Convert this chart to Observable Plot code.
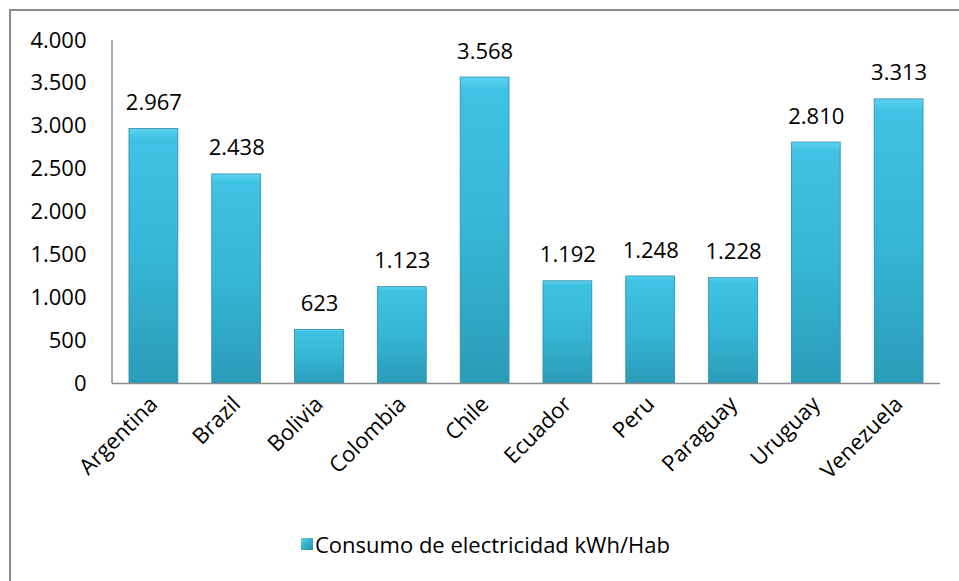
<!DOCTYPE html>
<html>
<head>
<meta charset="utf-8">
<script src="https://cdn.jsdelivr.net/npm/d3@7"></script>
<script src="https://cdn.jsdelivr.net/npm/@observablehq/plot@0.6"></script>
<style>
  html, body { margin: 0; padding: 0; background: #fff; }
  #wrap { position: relative; width: 959px; height: 581px; overflow: hidden; font-family: "Open Sans", sans-serif; }
  #border { position: absolute; left: 9px; top: 9px; width: 960px; height: 600px; border-top: 2px solid #8c8c8c; border-left: 2px solid #8c8c8c; box-sizing: border-box; }
  #chart { position: absolute; left: 0; top: 0; }
  #legend { position: absolute; left: 301px; top: 528px; height: 32px; display: flex; align-items: center; font-size: 22px; color: #000; white-space: nowrap; }
  #legend .sw { width: 12px; height: 12px; margin-right: 2px; background: linear-gradient(135deg, #5fd2ee 0%, #33aecb 50%, #2a8fa8 100%); }
</style>
</head>
<body>
<div id="wrap">
  <div id="border"></div>
  <div id="chart"></div>
  <div id="legend"><div class="sw"></div><span id="legendText"></span></div>
</div>
<script>
const countries = ["Argentina", "Brazil", "Bolivia", "Colombia", "Chile", "Ecuador", "Peru", "Paraguay", "Uruguay", "Venezuela"];
const consumo = [2967, 2438, 623, 1123, 3568, 1192, 1248, 1228, 2810, 3313];
const yTicks = [0, 500, 1000, 1500, 2000, 2500, 3000, 3500, 4000];
const seriesName = "Consumo de electricidad kWh/Hab";

const data = countries.map((c, i) => ({country: c, value: consumo[i]}));
const fmt = d3.formatLocale({decimal: ",", thousands: ".", grouping: [3], currency: ["", ""]}).format(",d");

const plot = Plot.plot({
  width: 959,
  height: 510,
  marginTop: 40,
  marginBottom: 127,
  marginLeft: 112,
  marginRight: 19,
  style: {fontFamily: "Open Sans, sans-serif", fontSize: "22px", color: "#000", background: "transparent", overflow: "visible"},
  x: {domain: countries, paddingInner: 0.41, paddingOuter: 0.205, round: false, label: null},
  y: {domain: [0, 4000], label: null},
  marks: [
    Plot.axisY({ticks: yTicks, tickFormat: fmt, tickSize: 0, tickPadding: 26, fontSize: 22, fill: "#000"}),
    Plot.axisX({tickRotate: -45, tickSize: 0, tickPadding: 17, fontSize: 22, fill: "#000"}),
    Plot.barY(data, {x: "country", y: "value", fill: "url(#barGrad)", stroke: "#2b8da6", strokeWidth: 0.8}),
    Plot.ruleY([0], {stroke: "#8c8c8c", strokeWidth: 1.5}),
    Plot.text(data, {x: "country", y: "value", text: d => fmt(d.value), dy: -26, fontSize: 22, fill: "#000"})
  ]
});

const svg = d3.select(plot);
const defs = svg.insert("defs", ":first-child");
const g = defs.append("linearGradient").attr("id", "barGrad").attr("x1", 0).attr("y1", 0).attr("x2", 0).attr("y2", 1);
g.append("stop").attr("offset", "0%").attr("stop-color", "#5cd3f0");
g.append("stop").attr("offset", "4%").attr("stop-color", "#3fc2e3");
g.append("stop").attr("offset", "50%").attr("stop-color", "#36b6d6");
g.append("stop").attr("offset", "100%").attr("stop-color", "#2a9cb7");

// left axis line from the y scale
const ys = plot.scale("y");
svg.append("line")
  .attr("x1", 112).attr("x2", 112)
  .attr("y1", ys.apply(0)).attr("y2", ys.apply(4000))
  .attr("stroke", "#8c8c8c").attr("stroke-width", 1.5);

document.getElementById("chart").appendChild(plot);
document.getElementById("legendText").textContent = seriesName;
</script>
</body>
</html>
